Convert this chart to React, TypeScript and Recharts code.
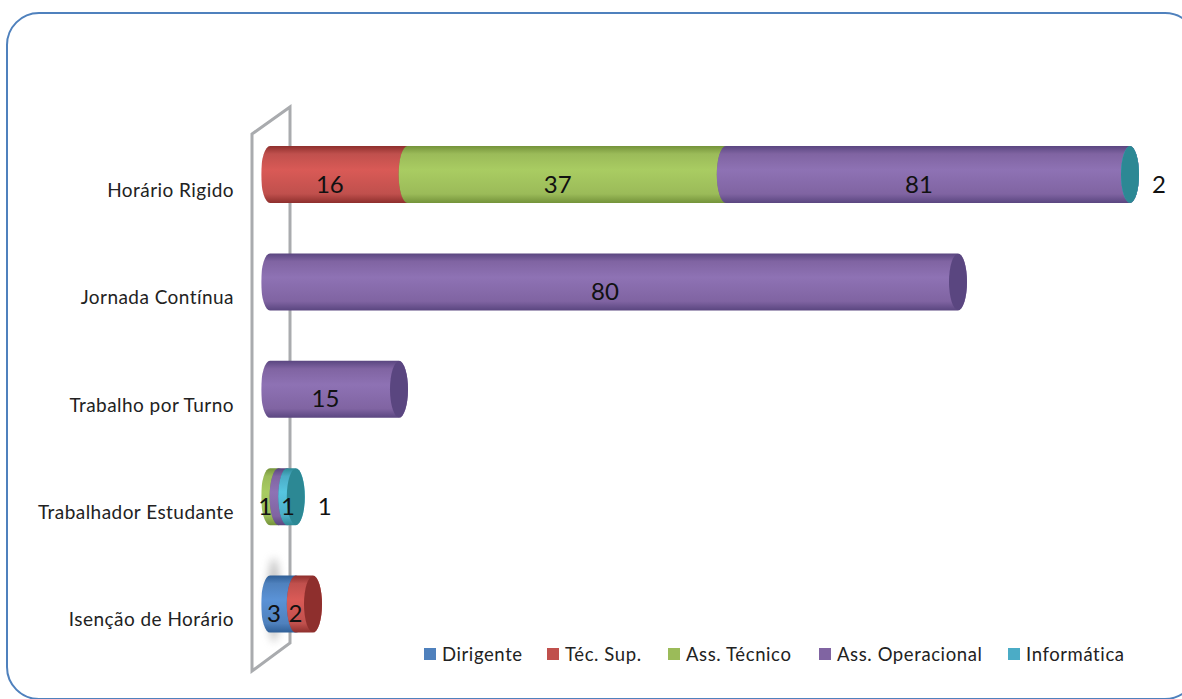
import React from "react";
import { BarChart, Bar, XAxis, YAxis, Legend, LabelList } from "recharts";

const categories = ["Horário Rigido", "Jornada Contínua", "Trabalho por Turno", "Trabalhador Estudante", "Isenção de Horário"];
const dirigente = [null, null, null, null, 3];
const tecSup = [16, null, null, null, 2];
const assTecnico = [37, null, null, 1, null];
const assOperacional = [81, 80, 15, 1, null];
const informatica = [2, null, null, 1, null];

const seriesNames = ["Dirigente", "Téc. Sup.", "Ass. Técnico", "Ass. Operacional", "Informática"];
const seriesValues = [dirigente, tecSup, assTecnico, assOperacional, informatica];
const seriesColors = ["#4F81BD", "#C0504D", "#9BBB59", "#8064A2", "#4BACC6"];
const seriesDark = ["#2F5F97", "#8E2F2D", "#74933A", "#5A4680", "#2C8894"];
const seriesLight = ["#5A92D6", "#D95A56", "#A9CC62", "#8E72B4", "#56C6E0"];
const legendWidths = [123, 121, 151, 189, 118];

// The value axis of the original stops at 100: stacks running past it are cut there.
const AXIS_LIMIT = 100;
const AXIS_MIN = -1;
const AXIS_MAX = 102;
const PX_PER_UNIT = 8.6;
const W = 1182;
const H = 699;
const ZERO_X = 270;
const PLOT_LEFT = ZERO_X + AXIS_MIN * PX_PER_UNIT;
const PLOT_RIGHT = ZERO_X + AXIS_MAX * PX_PER_UNIT;
const LIMIT_X = ZERO_X + AXIS_LIMIT * PX_PER_UNIT;
const PLOT_TOP = 121;
const PLOT_BOTTOM = 658;
const LEGEND_RESERVED = 22;
const FONT = "Lato, 'Open Sans', sans-serif";

const rows = categories.map((category, i) => {
  const row: Record<string, string | number | null> = { category };
  seriesNames.forEach((n, s) => {
    row[n] = seriesValues[s][i];
  });
  return row;
});

const Cylinder = (s: number) => (props: any) => {
  const { x, y, width, height, payload } = props;
  if (payload == null || payload[seriesNames[s]] == null) return null;
  const x0 = Math.min(x, LIMIT_X);
  const x1 = Math.min(x + width, LIMIT_X);
  const rx = 9;
  const ry = height / 2;
  const d = `M${x0},${y} L${x1},${y} A${rx},${ry} 0 0 1 ${x1},${y + height} L${x0},${y + height} A${rx},${ry} 0 0 1 ${x0},${y} Z`;
  return (
    <g>
      <path d={d} fill={`url(#cyl${s})`} />
      <ellipse cx={x1} cy={y + ry} rx={rx} ry={ry - 0.5} fill={seriesDark[s]} />
    </g>
  );
};

const BarLabel = (s: number) => (props: any) => {
  const { x, y, width, height, value } = props;
  if (value == null) return null;
  const x0 = Math.min(x, LIMIT_X);
  const x1 = Math.min(x + width, LIMIT_X);
  let cx = (x0 + x1) / 2 - 9;
  if (s === 4) cx = x1 + 29;
  else if (s === 3 && width < 10) cx = (x0 + x1) / 2 + 5;
  return (
    <text x={cx} y={y + height / 2 + 18} textAnchor="middle" fontFamily={FONT} fontSize={24} fill="#111">
      {value}
    </text>
  );
};

const CategoryTick = (props: any) => {
  const { y, payload } = props;
  return (
    <text x={234} y={y + 22} textAnchor="end" fontFamily={FONT} fontSize={19} letterSpacing={0.45} fill="#222">
      {payload.value}
    </text>
  );
};

const LegendBody = () => (
  <div style={{ display: "flex", fontFamily: FONT, fontSize: 18.5, letterSpacing: 0.6, color: "#222", lineHeight: "22px" }}>
    {seriesNames.map((name, i) => (
      <div key={name} style={{ width: legendWidths[i], display: "flex", alignItems: "center", flex: "none" }}>
        <span style={{ width: 12, height: 12, background: seriesColors[i], marginRight: 6, display: "inline-block" }} />
        {name}
      </div>
    ))}
  </div>
);

export default function App() {
  return (
    <div style={{ position: "absolute", left: 0, top: 0, width: W, height: H, overflow: "hidden", background: "#fff" }}>
      <svg width={W} height={H} style={{ position: "absolute", left: 0, top: 0 }}>
        <defs>
          <filter id="blurShadow" x="-100%" y="-50%" width="300%" height="200%">
            <feGaussianBlur stdDeviation="4" />
          </filter>
        </defs>
        <rect x={7} y={13} width={1190} height={686} rx={32} ry={32} fill="none" stroke="#4F81BD" strokeWidth={2} />
        <path d="M252,134 L290,107 L290,643 L252,671 Z" fill="none" stroke="#A9ABAE" strokeWidth={3} />
        <ellipse cx={274} cy={600} rx={6} ry={42} fill="#8A8A8A" opacity={0.55} filter="url(#blurShadow)" />
      </svg>
      <div style={{ position: "absolute", left: 0, top: 0 }}>
        <BarChart
          width={W}
          height={H}
          layout="vertical"
          data={rows}
          barCategoryGap={0}
          barSize={57}
          margin={{ top: PLOT_TOP - LEGEND_RESERVED, bottom: H - PLOT_BOTTOM, left: 0, right: W - PLOT_RIGHT }}
        >
          <defs>
            {seriesNames.map((_, s) => (
              <linearGradient key={s} id={`cyl${s}`} x1="0" y1="0" x2="0" y2="1">
                <stop offset="0%" stopColor={seriesDark[s]} />
                <stop offset="14%" stopColor={seriesColors[s]} />
                <stop offset="42%" stopColor={seriesLight[s]} />
                <stop offset="84%" stopColor={seriesColors[s]} />
                <stop offset="100%" stopColor={seriesDark[s]} />
              </linearGradient>
            ))}
          </defs>
          <XAxis type="number" domain={[AXIS_MIN, AXIS_MAX]} allowDataOverflow hide />
          <YAxis
            type="category"
            dataKey="category"
            width={PLOT_LEFT}
            axisLine={false}
            tickLine={false}
            interval={0}
            tick={<CategoryTick />}
          />
          <Legend
            verticalAlign="top"
            align="left"
            content={<LegendBody />}
            wrapperStyle={{ position: "absolute", left: 424, top: 643, width: 720 }}
          />
          {seriesNames.map((name, s) => (
            <Bar key={name} dataKey={name} stackId="a" fill={seriesColors[s]} isAnimationActive={false} shape={Cylinder(s)}>
              <LabelList dataKey={name} content={BarLabel(s)} />
            </Bar>
          ))}
        </BarChart>
      </div>
    </div>
  );
}
